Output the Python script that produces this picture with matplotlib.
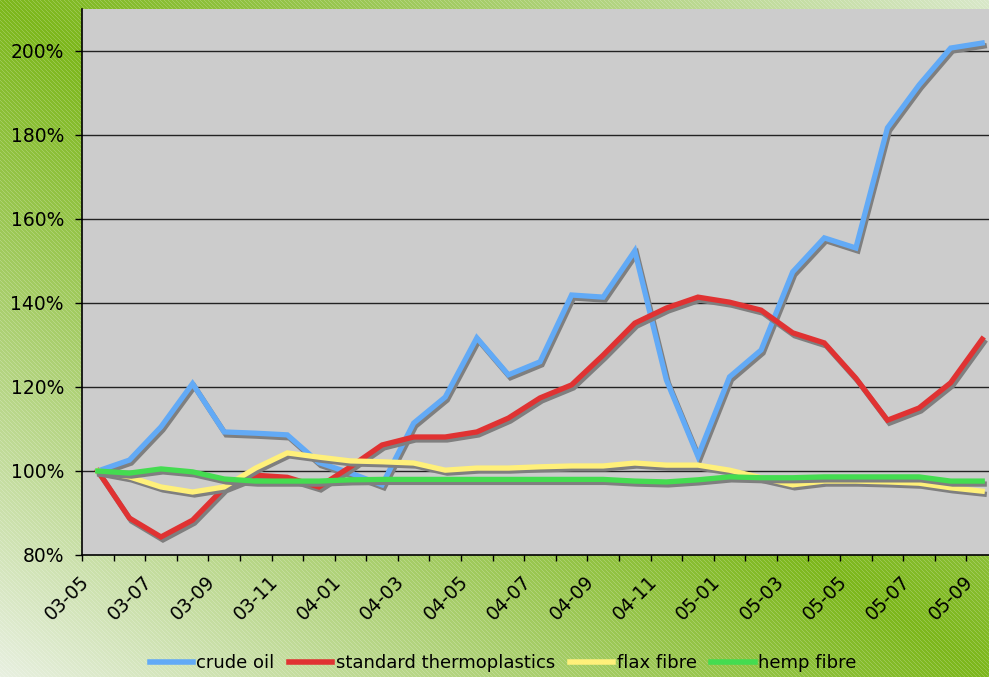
import numpy as np
import matplotlib
matplotlib.use("Agg")
import matplotlib.pyplot as plt
import matplotlib.transforms as mtransforms
from matplotlib.lines import Line2D

# ---------------- data ----------------
months = ["03-05", "03-06", "03-07", "03-08", "03-09", "03-10", "03-11", "03-12",
          "04-01", "04-02", "04-03", "04-04", "04-05", "04-06", "04-07", "04-08",
          "04-09", "04-10", "04-11", "04-12", "05-01", "05-02", "05-03", "05-04",
          "05-05", "05-06", "05-07", "05-08", "05-09"]
crude_oil = [100, 102.6, 110.5, 120.8, 109.3, 109.0, 108.6, 102.0, 99.5, 96.7,
             111.4, 117.6, 131.7, 122.9, 126.0, 141.9, 141.4, 152.4, 121.7, 103.5,
             122.4, 128.8, 147.4, 155.5, 153.1, 181.7, 191.9, 200.7, 201.9]
thermoplastics = [100, 88.8, 84.3, 88.3, 96.0, 99.0, 98.5, 96.2, 101.0, 106.2,
                  108.1, 108.1, 109.3, 112.6, 117.4, 120.5, 127.6, 135.2, 138.8, 141.4,
                  140.2, 138.3, 132.9, 130.5, 122.1, 112.1, 115.0, 121.0, 131.4]
flax_fibre = [100, 98.6, 96.2, 95.0, 96.2, 100.7, 104.3, 103.3, 102.4, 102.2,
              101.9, 100.2, 100.7, 100.7, 101.0, 101.2, 101.2, 101.9, 101.4, 101.4,
              100.2, 98.4, 96.7, 97.6, 97.6, 97.4, 97.1, 96.0, 95.2]
hemp_fibre = [100, 99.5, 100.5, 99.8, 98.1, 97.6, 97.6, 97.6, 97.9, 98.0,
              98.0, 98.0, 98.0, 98.0, 98.0, 98.0, 98.0, 97.6, 97.4, 97.9,
              98.6, 98.4, 98.4, 98.6, 98.6, 98.6, 98.6, 97.6, 97.6]
series_names = ["crude oil", "standard thermoplastics", "flax fibre", "hemp fibre"]
series_colors = ["#62aaf6", "#e03232", "#fff07a", "#44dc50"]
y_ticks = [80, 100, 120, 140, 160, 180, 200]

# ---------------- figure ----------------
W, H = 989, 677
fig = plt.figure(figsize=(W / 100, H / 100), dpi=100)

# background: diagonal gradient + fine diagonal stripes
yy, xx = np.mgrid[0:H, 0:W]
nx = xx / (W - 1)
ny = yy / (H - 1)
t = nx - ny
dark = np.array([0.49, 0.72, 0.11])
pale_bl = np.array([0.91, 0.94, 0.88])
pale_tr = np.array([0.85, 0.91, 0.79])
a = np.abs(t) ** 1.1
pale = np.where(t[..., None] < 0, pale_bl, pale_tr)
bg = dark * (1 - a[..., None]) + pale * a[..., None]
stripe = ((xx - yy) % 4 == 0)
bg[stripe] = bg[stripe] * 0.8 + 0.2
fig.figimage(bg, xo=0, yo=0, origin="upper", zorder=-10)

left_px, right_px, top_px, bot_px = 82, 998, 9, 555
ax = fig.add_axes([left_px / W, 1 - bot_px / H, (right_px - left_px) / W, (bot_px - top_px) / H])
ax.set_facecolor("#cccccc")
ax.set_xlim(-0.5, len(months) - 0.5)
ax.set_ylim(80, 210)

x = np.arange(len(months))
data = [crude_oil, thermoplastics, flax_fibre, hemp_fibre]
shadow_tr = mtransforms.offset_copy(ax.transData, fig=fig, x=2, y=-3, units="dots")
for i, (vals, col) in enumerate(zip(data, series_colors)):
    ax.plot(x, vals, color="#7f7f7f", lw=3.8, transform=shadow_tr,
            solid_joinstyle="miter", zorder=3 + 2 * i, clip_on=True)
    ax.plot(x, vals, color=col, lw=3.8, solid_joinstyle="miter", zorder=4 + 2 * i)

# grid
ax.set_yticks(y_ticks)
ax.set_yticklabels([f"{v}%" for v in y_ticks], fontsize=13.5)
for v in y_ticks[1:]:
    ax.axhline(v, color="#222222", lw=1.0, zorder=1)
ax.tick_params(axis="y", direction="out", length=5, width=1, pad=8, colors="black")

# x ticks: boundaries as minor ticks, labels at category centres
ax.set_xticks(np.arange(-0.5, len(months), 1.0), minor=True)
ax.set_xticks(x[::2])
ax.set_xticklabels(months[::2], fontsize=13.5, rotation=45, ha="right", va="center",
                   rotation_mode="anchor")
ax.tick_params(axis="x", which="major", length=0, pad=17)
ax.tick_params(axis="x", which="minor", direction="out", length=4.5, width=1)
shift = mtransforms.ScaledTranslation(-12 / 100, 0, fig.dpi_scale_trans)
for lab in ax.get_xticklabels():
    lab.set_transform(lab.get_transform() + shift)

for s in ["top", "right"]:
    ax.spines[s].set_visible(False)
for s in ["left", "bottom"]:
    ax.spines[s].set_color("black")
    ax.spines[s].set_linewidth(1.2)
ax.spines["left"].set_zorder(20)

handles = [Line2D([0], [0], color=c, lw=4) for c in series_colors]
fig.legend(handles, series_names, loc="center", bbox_to_anchor=(503 / W, 1 - 663 / H),
           ncol=4, frameon=False, fontsize=13, handlelength=2.4, handletextpad=0.2,
           columnspacing=0.8)

fig.savefig("out.png", dpi=100)
